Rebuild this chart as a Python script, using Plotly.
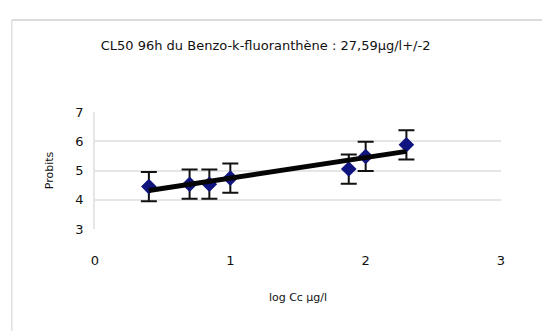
import numpy as np
import plotly.graph_objects as go

# log10 of the tested concentrations (µg/l) and the observed probits
log_conc = [0.398, 0.699, 0.845, 1.0, 1.875, 2.0, 2.301]
probits = [4.45, 4.53, 4.53, 4.74, 5.05, 5.48, 5.88]
probit_err = [0.5, 0.5, 0.5, 0.5, 0.5, 0.5, 0.5]

x_ticks = [0, 1, 2, 3]
y_ticks = [3, 4, 5, 6, 7]

title_text = "CL50 96h du Benzo-k-fluoranthène : 27,59µg/l+/-2"
x_title = "log Cc µg/l"
y_title = "Probits"

# least-squares regression line over the data span
slope, intercept = np.polyfit(log_conc, probits, 1)
fit_x = [min(log_conc), max(log_conc)]
fit_y = [slope * v + intercept for v in fit_x]

font_family = "DejaVu Sans, sans-serif"

fig = go.Figure()

fig.add_trace(go.Scatter(
    x=log_conc, y=probits, mode="markers",
    marker=dict(symbol="diamond", size=12, color="#10147e",
                line=dict(width=0)),
    error_y=dict(type="data", array=probit_err, visible=True,
                 color="#111111", thickness=2, width=8),
    showlegend=False, cliponaxis=False,
))

fig.add_trace(go.Scatter(
    x=fit_x, y=fit_y, mode="lines",
    line=dict(color="#050505", width=5),
    showlegend=False, cliponaxis=False,
))

# faint outer frame of the chart area
fig.add_shape(type="line", xref="paper", yref="paper",
              x0=-0.205, x1=1.2, y0=1.786, y1=1.786,
              line=dict(color="#d0d0d0", width=1.5))
fig.add_shape(type="line", xref="paper", yref="paper",
              x0=-0.205, x1=-0.205, y0=1.786, y1=-1.0,
              line=dict(color="#e0e0e0", width=1.5))

fig.update_layout(
    width=542, height=331,
    margin=dict(l=95, r=41, t=112, b=102),
    paper_bgcolor="white", plot_bgcolor="white",
    font=dict(family=font_family, color="#111111", size=12),
    title=dict(text=title_text, x=0.49, xanchor="center",
               y=1 - 45 / 331, yanchor="middle",
               font=dict(size=13, color="#111111")),
    xaxis=dict(range=[0, 3], tickvals=x_ticks, showgrid=False,
               zeroline=False, showline=False, ticks="",
               ticklabelstandoff=22, tickfont=dict(size=13),
               title=dict(text=x_title, standoff=26,
                          font=dict(size=11))),
    yaxis=dict(range=[3, 7], tickvals=y_ticks, showgrid=True,
               gridcolor="#e6e6e6", gridwidth=1.5,
               zeroline=False, showline=True, linecolor="#e6e6e6",
               linewidth=1.5, ticks="", ticklabelstandoff=7,
               tickfont=dict(size=13),
               title=dict(text=y_title, standoff=20,
                          font=dict(size=11))),
)

fig.write_html("out.html")
